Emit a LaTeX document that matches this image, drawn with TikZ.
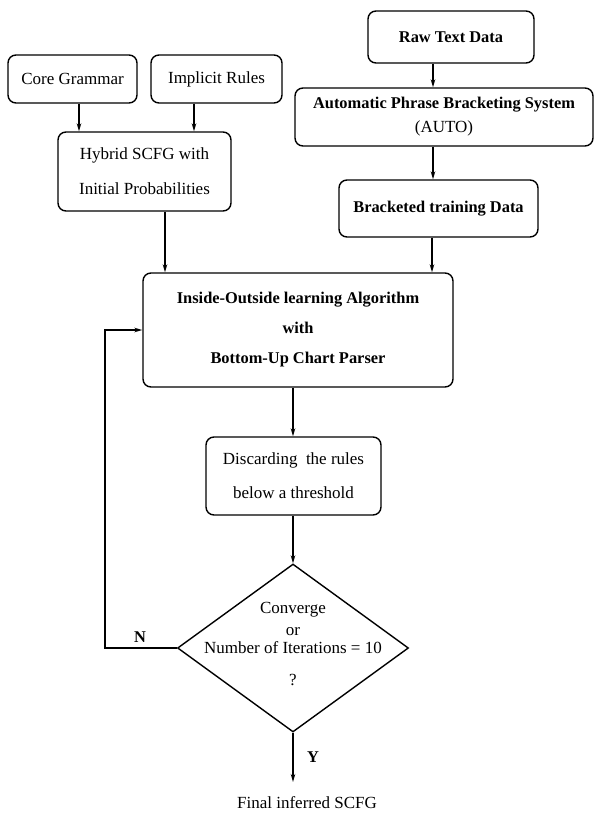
\documentclass[tikz,border=0pt]{standalone}
\usepackage{fontspec}
\setmainfont{Liberation Serif}
\usetikzlibrary{arrows.meta,shapes.geometric}
\begin{document}
\begin{tikzpicture}[x=1pt,y=-1pt,
  box/.style={draw, rounded corners=8pt, line width=1.4pt, inner sep=0pt, align=center,
    font=\fontsize{17}{20}\selectfont},
  bbox/.style={box, font=\fontsize{16.4}{20}\selectfont\bfseries},
  arr/.style={-{Stealth[length=8pt,width=4.5pt]}, line width=1.4pt},
  lbl/.style={font=\fontsize{16.4}{20}\selectfont\bfseries, inner sep=0pt},
  txt/.style={font=\fontsize{17}{20}\selectfont, inner sep=0pt, align=center}]
\useasboundingbox (0,0) rectangle (594,814);

\node[box, minimum width=129pt, minimum height=48pt] (core) at (72.5,79) {Core Grammar};
\node[box, minimum width=131pt, minimum height=48pt] (impl) at (216.5,79) {Implicit Rules};
\node[box, minimum width=173pt, minimum height=79pt] (hyb) at (144.5,171.5)
  {Hybrid SCFG with\\[15pt]Initial Probabilities};
\node[bbox, minimum width=166pt, minimum height=52pt] (raw) at (451,37) {Raw Text Data};
\node[box, minimum width=298pt, minimum height=58pt] (auto) at (444,117)
  {\bfseries\fontsize{16.4}{20}\selectfont Automatic Phrase Bracketing System\\[4pt](AUTO)};
\node[bbox, minimum width=199pt, minimum height=57pt] (brk) at (438.5,208.5) {Bracketed training Data};
\node[bbox, minimum width=310pt, minimum height=114pt] (io) at (298,330)
  {Inside-Outside learning Algorithm\\[10pt]with\\[10pt]Bottom-Up Chart Parser};
\node[box, minimum width=175pt, minimum height=78pt] (disc) at (293.5,476)
  {Discarding\ \ the rules\\[14pt]below a threshold};
\node[draw, diamond, line width=1.4pt, minimum width=231pt, minimum height=168pt, inner sep=0pt]
  (dia) at (293,648) {};
\node[txt] (qt) at (293,644) {Converge\\[2pt]or\\[-2pt]Number of Iterations = 10\\[12pt]?};
\node[txt] (fin) at (307,803) {Final inferred SCFG};
\node[lbl] (nl) at (140,637) {N};
\node[lbl] (yl) at (313,757) {Y};

\coordinate (a1) at ([xshift=6.5pt]core.south);
\coordinate (a2) at ([xshift=-22.5pt]impl.south);
\coordinate (a3) at ([xshift=20.5pt]hyb.south);
\coordinate (a4) at ([xshift=-18pt]raw.south);
\coordinate (a5) at ([xshift=-11pt]auto.south);
\coordinate (a6) at ([xshift=-6.5pt]brk.south);
\coordinate (a7) at (dia.north |- io.south);
\coordinate (a8) at (dia.north |- disc.south);
\coordinate (loop) at (105,648);
\coordinate (fend) at (293,782);

\draw[arr] (a1) -- (a1 |- hyb.north);
\draw[arr] (a2) -- (a2 |- hyb.north);
\draw[arr] (a3) -- (a3 |- io.north);
\draw[arr] (a4) -- (a4 |- auto.north);
\draw[arr] (a5) -- (a5 |- brk.north);
\draw[arr] (a6) -- (a6 |- io.north);
\draw[arr] (a7) -- (a7 |- disc.north);
\draw[arr] (a8) -- (dia.north);
\draw[arr] (dia.west) -- (loop) |- (io.west);
\draw[arr] (dia.south) -- (fend);
\end{tikzpicture}
\end{document}
